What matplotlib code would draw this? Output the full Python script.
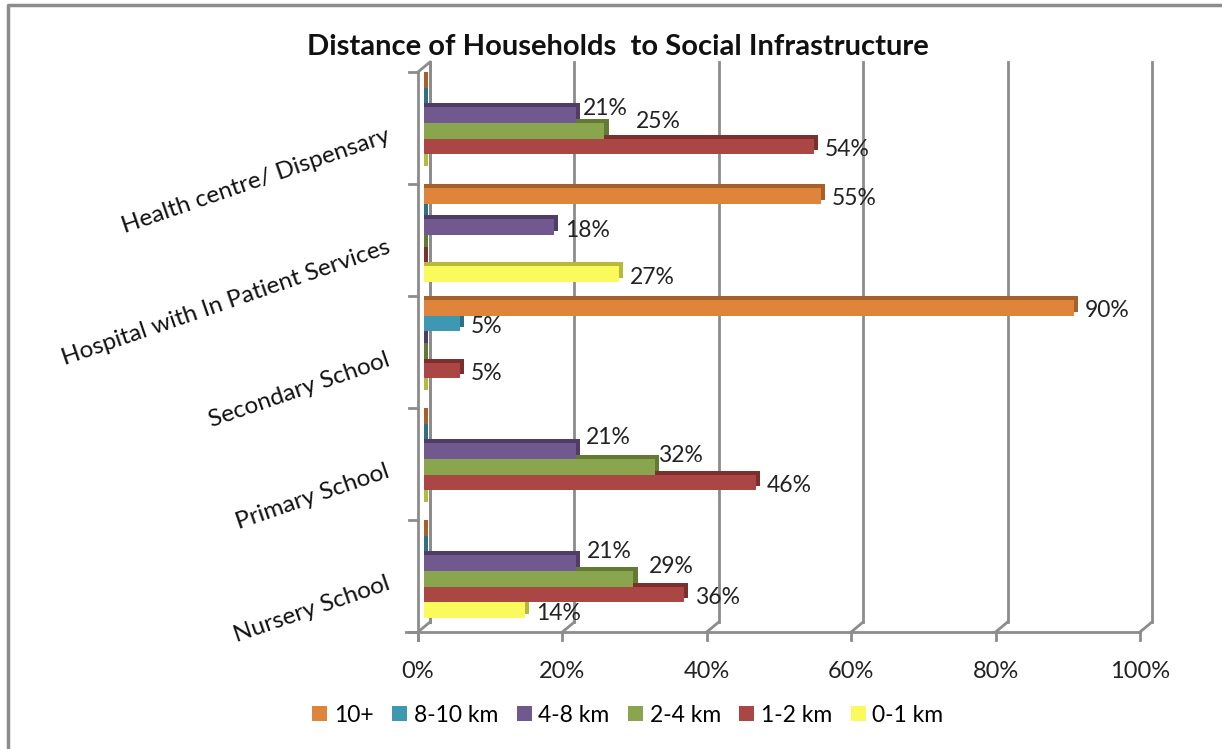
"""Distance of households to social infrastructure, drawn as an Excel-style 3D clustered bar chart."""

import matplotlib
matplotlib.use("Agg")
import matplotlib.pyplot as plt
from matplotlib.patches import Patch
from matplotlib.transforms import ScaledTranslation, blended_transform_factory

categories = ["Nursery School", "Primary School", "Secondary School",
              "Hospital with In Patient Services", "Health centre/ Dispensary"]
series_names = ["10+", "8-10 km", "4-8 km", "2-4 km", "1-2 km", "0-1 km"]

# percent of households, one list per distance band, in category order
share_10_plus = [0, 0, 90, 55, 0]
share_8_10 = [0, 0, 5, 0, 0]
share_4_8 = [21, 21, 0, 18, 21]
share_2_4 = [29, 32, 0, 0, 25]
share_1_2 = [36, 46, 5, 0, 54]
share_0_1 = [14, 0, 0, 27, 0]
all_shares = [share_10_plus, share_8_10, share_4_8, share_2_4, share_1_2, share_0_1]

x_ticks = [0, 20, 40, 60, 80, 100]
x_tick_labels = ["0%", "20%", "40%", "60%", "80%", "100%"]

face_colors = ["#DE853B", "#3F98B1", "#71588F", "#89A54E", "#AA4643", "#FAFA5C"]
side_colors = ["#A8602A", "#2D7187", "#4F3D66", "#627A36", "#7C302E", "#B8B83A"]
grid_color = "#8C8C8C"

# manual nudges (pixels) for labels that Excel moved around
label_nudges = {(4, 2): (-4, 10), (4, 3): (20, 12),
                (1, 2): (-1, 17), (1, 3): (-8, 14),
                (0, 2): (0, 15), (0, 3): (4, 15)}

plt.rcParams["font.family"] = ["Lato", "DejaVu Sans"]
fig = plt.figure(figsize=(12.22, 7.49), dpi=100)
ax = fig.add_axes([424 / 1222, 122 / 749, 722 / 1222, 560 / 749])
ax.set_xlim(0, 100)
ax.set_ylim(-0.5, len(categories) - 0.5)
ax.axis("off")


def px(dx, dy):
    return ScaledTranslation(dx / 100, dy / 100, fig.dpi_scale_trans)


back = px(6, 5)
front = px(-6, -5)
xa = blended_transform_factory(ax.transData, ax.transAxes)
y0 = ax.transAxes.transform((0, 0))[1]

# back wall gridlines with the little floor diagonal and front ticks
for t, lab in zip(x_ticks, x_tick_labels):
    ax.plot([t, t], [1, 0], color=grid_color, lw=2, transform=xa + back, clip_on=False, zorder=0)
    fx = ax.transData.transform((t, 0))[0]
    fig.add_artist(plt.Line2D([fx + 6, fx - 6], [y0 + 5, y0 - 5], color=grid_color, lw=2,
                              transform=None, zorder=0))
    fig.add_artist(plt.Line2D([fx - 6, fx - 6], [y0 - 5, y0 - 13], color=grid_color, lw=2,
                              transform=None))
    ax.text(t, 0, lab, transform=xa + px(-6, -45), ha="center", va="center",
            fontsize=17, color="#222222")

# floor front edge and left walls
ax.plot([-1.6, 100], [0, 0], color=grid_color, lw=2, transform=xa + front, clip_on=False)
ax.plot([0, 0], [0, 1], color=grid_color, lw=2, transform=xa + back, clip_on=False)
ax.plot([0, 0], [-0.015, 1], color=grid_color, lw=2, transform=xa + front, clip_on=False)
x0, ytop = ax.transAxes.transform((0, 1))
fig.add_artist(plt.Line2D([x0 - 6, x0 + 6], [ytop - 5, ytop + 5], color=grid_color, lw=2,
                          transform=None))
for b in range(len(categories) + 1):
    ax.plot([-1.2, 0], [b - 0.5, b - 0.5], color=grid_color, lw=2,
            transform=ax.transData + front, clip_on=False)

# bars: a darker copy nudged up and a bit longer gives the 3D top/side faces
bar_h = 0.14
for s, vals in enumerate(all_shares):
    pos = [i + (2.5 - s) * bar_h for i in range(len(categories))]
    ax.barh(pos, [v + 0.6 for v in vals], height=bar_h, color=side_colors[s],
            transform=ax.transData + px(0, 4), zorder=2, linewidth=0)
for s, (vals, name) in enumerate(zip(all_shares, series_names)):
    pos = [i + (2.5 - s) * bar_h for i in range(len(categories))]
    ax.barh(pos, vals, height=bar_h, color=face_colors[s], zorder=3, linewidth=0, label=name)
    for i, v in enumerate(vals):
        if v == 0:
            continue
        dx, dy = label_nudges.get((i, s), (0, 0))
        ax.annotate(f"{v}%", xy=(v, pos[i]), xytext=(11 + dx, -3 + dy), textcoords="offset pixels",
                    ha="left", va="center", fontsize=16.5, color="#222222", zorder=5)

# rotated category labels
for i, name in enumerate(categories):
    ax.text(0, i, name, transform=ax.transData + px(-35, -12), rotation=19,
            rotation_mode="anchor", ha="right", va="center", fontsize=17.5, color="#111111")

fig.text(618 / 1222, 1 - 47 / 749, "Distance of Households  to Social Infrastructure",
         ha="center", va="center", fontsize=21, fontweight="bold", color="#111111")

handles = [Patch(facecolor=c, edgecolor="none") for c in face_colors]
fig.legend(handles, series_names, loc="center", bbox_to_anchor=(628 / 1222, 1 - 715 / 749),
           ncol=6, frameon=False, fontsize=16.5, handlelength=0.65, handleheight=0.65,
           handletextpad=0.3, columnspacing=0.8)

# screenshot border on the left and top
fig.add_artist(plt.Line2D([8, 8, 1222], [0, 744, 744], color="#8C8C8C", lw=2.5, transform=None))

fig.savefig("out.png", dpi=100)
